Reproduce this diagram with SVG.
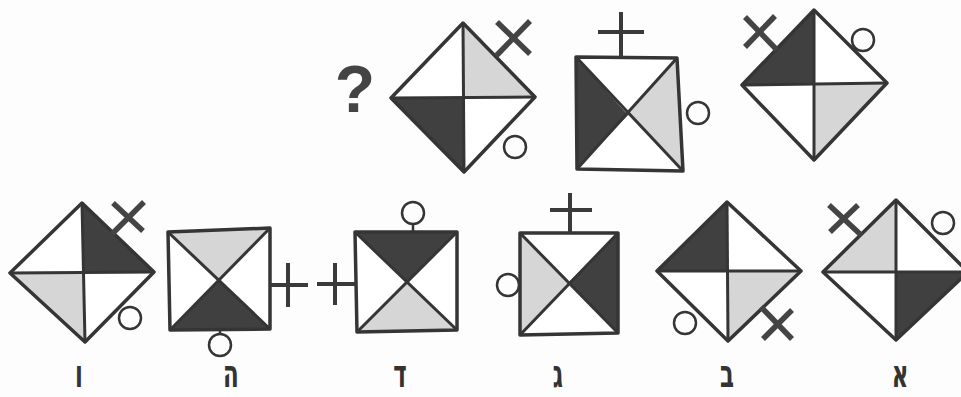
<svg xmlns="http://www.w3.org/2000/svg" width="961" height="397" viewBox="0 0 961 397">
<style>
.o{fill:none;stroke:#353535;stroke-width:3.5;stroke-linejoin:round}
.w{fill:#ffffff}
.d{fill:#404040}
.l{fill:#d6d6d6}
.dl{stroke:#353535;stroke-width:3;fill:none}
.x{stroke:#444;stroke-width:5.5;stroke-linecap:butt;fill:none}
.p{stroke:#3a3a3a;stroke-width:4;fill:none}
.c{fill:none;stroke:#353535;stroke-width:2.5}
.lab{font-family:"DejaVu Sans Condensed","DejaVu Sans",sans-serif;font-weight:bold;font-size:30px;fill:#333;text-anchor:middle}
</style>
<rect width="961" height="397" fill="#fdfdfd"/>

<g id="question">
<text x="355" y="112" style="font-family:'Liberation Sans',Arial,sans-serif;font-weight:bold;font-size:66px;fill:#444;text-anchor:middle">?</text>
</g>

<g id="top1">
<polygon class="w" points="391,98 463,23 535,97 464,172"/>
<polygon class="l" points="463,23 535,97 463,97"/>
<polygon class="d" points="464,172 391,98 463,97"/>
<line class="dl" x1="463" y1="23" x2="464" y2="172"/>
<line class="dl" x1="391" y1="98" x2="535" y2="97"/>
<polygon class="o" points="391,98 463,23 535,97 464,172"/>
<line class="x" x1="496" y1="56" x2="530" y2="21"/>
<line class="x" x1="497" y1="22" x2="530" y2="54"/>
<circle class="c" cx="515" cy="147" r="11"/>
</g>

<g id="top2">
<polygon class="w" points="576,57 677,58 683,171 577,169"/>
<polygon class="d" points="576,57 628,115 577,169"/>
<polygon class="l" points="677,58 683,171 628,115"/>
<line class="dl" x1="576" y1="57" x2="683" y2="171"/>
<line class="dl" x1="677" y1="58" x2="577" y2="169"/>
<polygon class="o" points="576,57 677,58 683,171 577,169"/>
<line class="p" x1="621" y1="12" x2="621" y2="57"/>
<line class="p" x1="598" y1="32" x2="644" y2="32"/>
<circle class="c" cx="698" cy="113" r="11"/>
</g>

<g id="top3">
<polygon class="w" points="742,85 814,10 887,83 814,160"/>
<polygon class="d" points="742,85 814,10 814,85"/>
<polygon class="l" points="887,83 814,160 814,85"/>
<line class="dl" x1="814" y1="10" x2="814" y2="160"/>
<line class="dl" x1="742" y1="85" x2="887" y2="83"/>
<polygon class="o" points="742,85 814,10 887,83 814,160"/>
<line class="x" x1="745" y1="17" x2="777" y2="50"/>
<line class="x" x1="775" y1="16" x2="745" y2="47"/>
<circle class="c" cx="863" cy="40" r="11"/>
</g>

<g id="vav">
<polygon class="w" points="10,273 82,203 154,272 85,342"/>
<polygon class="d" points="82,203 154,272 83,273"/>
<polygon class="l" points="85,342 10,273 83,273"/>
<line class="dl" x1="82" y1="203" x2="85" y2="342"/>
<line class="dl" x1="10" y1="273" x2="154" y2="272"/>
<polygon class="o" points="10,273 82,203 154,272 85,342"/>
<line class="x" x1="112" y1="234" x2="144" y2="202"/>
<line class="x" x1="113" y1="203" x2="143" y2="231"/>
<circle class="c" cx="130" cy="318" r="11"/>
<text class="lab" transform="translate(79,387) scale(0.85,1.3)">ו</text>
</g>

<g id="he">
<polygon class="w" points="168,232 270,228 270,329 170,330"/>
<polygon class="l" points="168,232 270,228 219,280"/>
<polygon class="d" points="170,330 219,280 270,329"/>
<line class="dl" x1="168" y1="232" x2="270" y2="329"/>
<line class="dl" x1="270" y1="228" x2="170" y2="330"/>
<polygon class="o" points="168,232 270,228 270,329 170,330"/>
<line class="p" x1="270" y1="285" x2="308" y2="285"/>
<line class="p" x1="288" y1="263" x2="288" y2="307"/>
<line class="c" x1="220" y1="330" x2="220" y2="334"/>
<circle class="c" cx="220" cy="345" r="11"/>
<text class="lab" transform="translate(231,387) scale(0.85,1.3)">ה</text>
</g>

<g id="dalet">
<polygon class="w" points="355,232 457,232 457,330 357,332"/>
<polygon class="d" points="355,232 457,232 407,283"/>
<polygon class="l" points="357,332 407,283 457,330"/>
<line class="dl" x1="355" y1="232" x2="457" y2="330"/>
<line class="dl" x1="457" y1="232" x2="357" y2="332"/>
<polygon class="o" points="355,232 457,232 457,330 357,332"/>
<line class="p" x1="317" y1="284" x2="356" y2="284"/>
<line class="p" x1="335" y1="263" x2="335" y2="305"/>
<line class="c" x1="413" y1="224" x2="413" y2="232"/>
<circle class="c" cx="413" cy="213" r="11"/>
<text class="lab" transform="translate(400,387) scale(0.85,1.3)">ד</text>
</g>

<g id="gimel">
<polygon class="w" points="520,233 618,233 618,333 520,335"/>
<polygon class="l" points="520,233 568,283 520,335"/>
<polygon class="d" points="618,233 618,333 568,283"/>
<line class="dl" x1="520" y1="233" x2="618" y2="333"/>
<line class="dl" x1="618" y1="233" x2="520" y2="335"/>
<polygon class="o" points="520,233 618,233 618,333 520,335"/>
<line class="p" x1="570" y1="193" x2="570" y2="233"/>
<line class="p" x1="550" y1="210" x2="592" y2="210"/>
<circle class="c" cx="508" cy="285" r="11"/>
<text class="lab" transform="translate(558,387) scale(0.85,1.3)">ג</text>
</g>

<g id="bet">
<polygon class="w" points="657,271 727,202 801,271 728,341"/>
<polygon class="d" points="657,271 727,202 728,271"/>
<polygon class="l" points="801,271 728,341 728,271"/>
<line class="dl" x1="727" y1="202" x2="728" y2="341"/>
<line class="dl" x1="657" y1="271" x2="801" y2="271"/>
<polygon class="o" points="657,271 727,202 801,271 728,341"/>
<line class="x" x1="761" y1="307" x2="792" y2="339"/>
<line class="x" x1="792" y1="310" x2="763" y2="339"/>
<circle class="c" cx="685" cy="323" r="11"/>
<text class="lab" transform="translate(727,387) scale(0.85,1.3)">ב</text>
</g>

<g id="alef">
<polygon class="w" points="823,272 896,200 968,272 896,340"/>
<polygon class="l" points="823,272 896,200 896,272"/>
<polygon class="d" points="968,272 896,340 896,272"/>
<line class="dl" x1="896" y1="200" x2="896" y2="340"/>
<line class="dl" x1="823" y1="272" x2="968" y2="272"/>
<polygon class="o" points="823,272 896,200 968,272 896,340"/>
<line class="x" x1="829" y1="205" x2="861" y2="235"/>
<line class="x" x1="858" y1="205" x2="830" y2="232"/>
<circle class="c" cx="943" cy="223" r="11"/>
<text class="lab" transform="translate(900,387) scale(0.85,1.3)">א</text>
</g>
</svg>
